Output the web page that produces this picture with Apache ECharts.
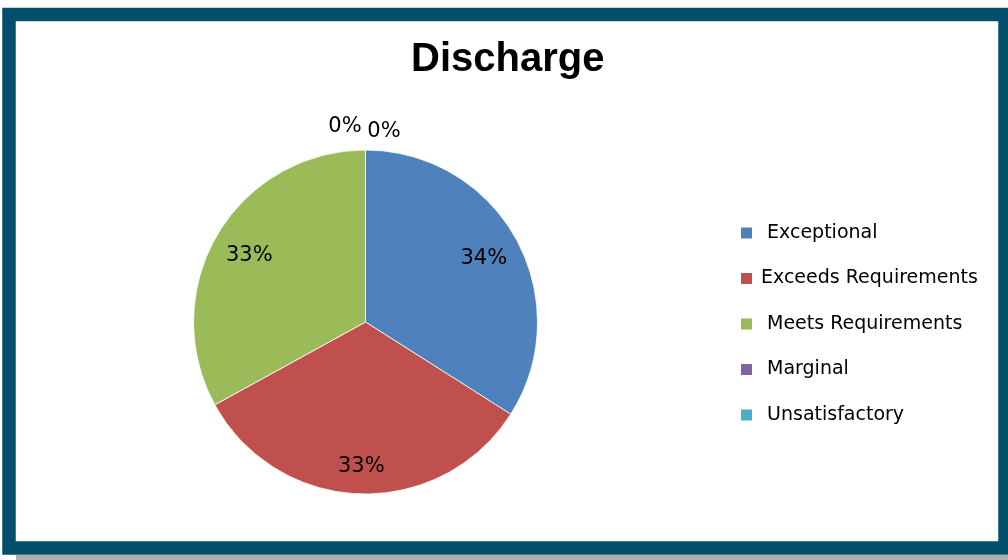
<!DOCTYPE html>
<html>
<head>
<meta charset="utf-8">
<script src="https://cdn.jsdelivr.net/npm/echarts@6/dist/echarts.min.js"></script>
<style>
html,body{margin:0;padding:0;background:#fff;}
#chart{width:1008px;height:560px;}
</style>
</head>
<body>
<div id="chart"></div>
<script>
var titleText = 'Discharge';
var categories = [' Exceptional', 'Exceeds Requirements', ' Meets Requirements', ' Marginal', ' Unsatisfactory'];
var values = [34, 33, 33, 0, 0];
var colors = ['#4F81BD', '#C0504D', '#9BBB59', '#8064A2', '#4BACC6'];

var pieData = categories.map(function (c, i) {
  return { name: c, value: values[i], itemStyle: { color: colors[i] } };
});
var labelData = categories.map(function (c, i) {
  return { name: c, value: values[i] };
});

var chart = echarts.init(document.getElementById('chart'));
chart.setOption({
  animation: false,
  backgroundColor: '#fff',
  graphic: [
    { type: 'rect', z: 100, silent: true,
      shape: { x: 16, y: 555, width: 992, height: 5 },
      style: { fill: '#b0b0b0' } },
    { type: 'rect', z: 100, silent: true,
      shape: { x: 9, y: 14.5, width: 996, height: 533.5 },
      style: { fill: 'none', stroke: '#03506C', lineWidth: 13.5 } }
  ],
  title: {
    text: titleText,
    left: 411,
    top: 40,
    padding: 0,
    textStyle: { fontFamily: 'Liberation Sans', fontWeight: 'bold', fontSize: 40, color: '#000' }
  },
  legend: {
    orient: 'vertical',
    left: 739,
    top: 223,
    padding: 0,
    itemWidth: 13,
    itemHeight: 13,
    itemGap: 25.5,
    icon: 'rect',
    data: categories,
    textStyle: { fontFamily: 'DejaVu Sans', fontSize: 19, lineHeight: 20, color: '#000', padding: [0, 0, 0, 3] }
  },
  series: [
    {
      type: 'pie',
      center: [365.5, 322],
      radius: 172,
      startAngle: 90,
      clockwise: true,
      silent: true,
      data: pieData,
      label: { show: false },
      labelLine: { show: false },
      itemStyle: { borderColor: '#fff', borderWidth: 0.8 }
    },
    {
      type: 'pie',
      center: [365.5, 322],
      radius: 264,
      startAngle: 90,
      clockwise: true,
      silent: true,
      avoidLabelOverlap: false,
      data: labelData,
      itemStyle: { color: 'rgba(0,0,0,0)', borderWidth: 0 },
      label: {
        show: true,
        position: 'inside',
        formatter: function (p) { return p.value + '%'; },
        fontFamily: 'DejaVu Sans',
        fontSize: 21,
        color: '#000'
      },
      labelLine: { show: false },
      labelLayout: function (p) {
        if (p.dataIndex === 1) return { dy: 10 };
        if (p.dataIndex === 3) return { dx: -20.5, dy: -60 };
        if (p.dataIndex === 4) return { dx: 18.5, dy: -55 };
        return { dy: 2 };
      }
    }
  ]
});
</script>
</body>
</html>
